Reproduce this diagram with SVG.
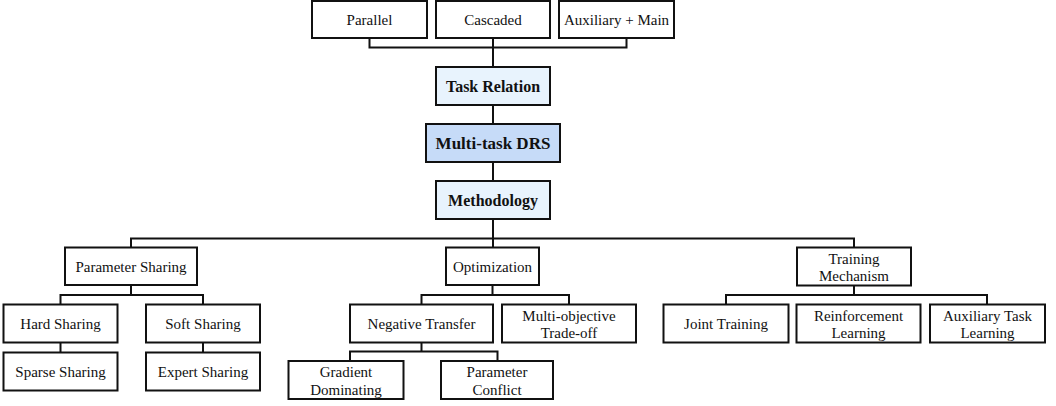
<svg xmlns="http://www.w3.org/2000/svg" width="1056" height="406" viewBox="0 0 1056 406">
<style>
rect{stroke:#111;stroke-width:2;fill:#fff}
rect.l{fill:#e8f3fd}
rect.d{fill:#c6dbf8}
text{font-family:'Liberation Serif','DejaVu Serif',serif;font-size:15px;fill:#111;text-anchor:middle}
text.b{font-weight:bold;font-size:16px}
#conn path{fill:none;stroke:#111;stroke-width:2}
</style>
<rect x="0" y="0" width="1056" height="406" style="fill:#fff;stroke:none"/>
<g id="conn">
<path d="M369.5 38V47.5H626.5V38M493 38V67"/>
<path d="M493 105V124M493 162V181M493 219V247.5"/>
<path d="M131 247.5V238.5H854V247.5"/>
<path d="M131 285V295M60.5 304.5V295H203V304.5"/>
<path d="M60.5 342.5V352.5M203 342.5V352.5"/>
<path d="M492.5 285V295M421.5 304.5V295H569V304.5"/>
<path d="M421.5 342.5V351.5M350 361V351.5H497.5V361"/>
<path d="M854 285.5V295M726 304.5V295H987V304.5"/>
</g>
<g id="n-parallel"><rect x="312" y="1" width="115" height="37"/><text x="369.5" y="25">Parallel</text></g>
<g id="n-cascaded"><rect x="436" y="1" width="114" height="37"/><text x="493" y="25">Cascaded</text></g>
<g id="n-auxmain"><rect x="559" y="1" width="115" height="37"/><text x="616.5" y="25">Auxiliary + Main</text></g>
<g id="n-taskrel"><rect class="l" x="436" y="67" width="114" height="38"/><text class="b" x="493" y="91.5">Task Relation</text></g>
<g id="n-mtdrs"><rect class="d" x="426" y="124" width="134" height="38"/><text class="b" x="493" y="149" style="font-size:17px">Multi-task DRS</text></g>
<g id="n-method"><rect class="l" x="436" y="181" width="114" height="38"/><text class="b" x="493" y="205.5">Methodology</text></g>
<g id="n-paramshare"><rect x="65" y="247.5" width="132" height="37.5"/><text x="131" y="271.5">Parameter Sharing</text></g>
<g id="n-optim"><rect x="446" y="247.5" width="93" height="37.5"/><text x="492.5" y="271.5">Optimization</text></g>
<g id="n-trainmech"><rect x="797" y="247.5" width="114" height="38"/><text x="854" y="263.5">Training</text><text x="854" y="281">Mechanism</text></g>
<g id="n-hard"><rect x="3.5" y="304.5" width="114" height="38"/><text x="60.5" y="328.5">Hard Sharing</text></g>
<g id="n-soft"><rect x="146" y="304.5" width="114" height="38"/><text x="203" y="328.5">Soft Sharing</text></g>
<g id="n-sparse"><rect x="3.5" y="352.5" width="114" height="38"/><text x="60.5" y="376.5">Sparse Sharing</text></g>
<g id="n-expert"><rect x="146" y="352.5" width="114" height="38"/><text x="203" y="376.5">Expert Sharing</text></g>
<g id="n-negtrans"><rect x="350" y="304.5" width="143" height="38"/><text x="421.5" y="328.5">Negative Transfer</text></g>
<g id="n-multiobj"><rect x="502" y="304.5" width="134" height="38"/><text x="569" y="320.5">Multi-objective</text><text x="569" y="338">Trade-off</text></g>
<g id="n-gradient"><rect x="288.5" y="361" width="115" height="38"/><text x="346" y="377">Gradient</text><text x="346" y="394.5">Dominating</text></g>
<g id="n-paramconf"><rect x="441" y="361" width="112" height="38"/><text x="497" y="377">Parameter</text><text x="497" y="394.5">Conflict</text></g>
<g id="n-joint"><rect x="663.5" y="304.5" width="125" height="38"/><text x="726" y="328.5">Joint Training</text></g>
<g id="n-reinf"><rect x="796.5" y="304.5" width="124" height="38"/><text x="858.5" y="320.5">Reinforcement</text><text x="858.5" y="338">Learning</text></g>
<g id="n-auxtask"><rect x="930" y="304.5" width="115" height="38"/><text x="987.5" y="320.5">Auxiliary Task</text><text x="987.5" y="338">Learning</text></g>
</svg>
